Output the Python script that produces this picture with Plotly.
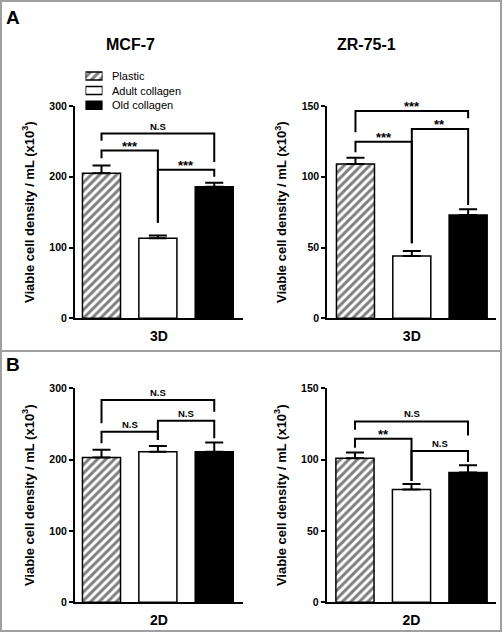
import plotly.graph_objects as go

# ---------------- data ----------------
conditions = ["Plastic", "Adult collagen", "Old collagen"]

mcf7_3d = [205, 113, 186]
mcf7_3d_err = [11, 4, 5.5]
zr_3d = [109, 44, 73]
zr_3d_err = [4.5, 3.5, 4]
mcf7_2d = [203, 211, 211]
mcf7_2d_err = [11, 8, 13]
zr_2d = [101, 79, 91]
zr_2d_err = [4, 4, 5]

# brackets: (left bar, right bar, bracket height, left leg end, right leg end, label)
br_mcf7_3d = [(0, 2, 261, 251, 221, "N.S"), (0, 1, 237, 226, 135, "***"), (1, 2, 210, 135, 200, "***")]
br_zr_3d = [(0, 2, 146.5, 131.4, 141.3, "***"), (1, 2, 133.8, 53, 80, "**"), (0, 1, 124.8, 117.3, 53, "***")]
br_mcf7_2d = [(0, 2, 283.6, 251, 267, "N.S"), (0, 1, 239, 223, 227.5, "N.S"), (1, 2, 254.6, 227.5, 230, "N.S")]
br_zr_2d = [(0, 2, 126.8, 121, 117, "N.S"), (0, 1, 114.7, 108.4, 85, "**"), (1, 2, 106, 85, 98.3, "N.S")]

y_ticks_mcf7 = [0, 100, 200, 300]
y_ticks_zr = [0, 50, 100, 150]
cell_lines = ["MCF-7", "ZR-75-1"]
cultures = ["3D", "2D"]
y_title = "Viable cell density / mL (x10<sup>3</sup>)"

# ---------------- layout helpers ----------------
W, H = 504, 633
FONT = "Liberation Sans, Arial, sans-serif"

def px(x):
    return x / W

def py(y):
    return 1 - y / H

fig = go.Figure()

panels = [
    dict(n="", vals=mcf7_3d, errs=mcf7_3d_err, br=br_mcf7_3d, ticks=y_ticks_mcf7, xd=(75, 243), yd=(318.3, 106), xr=[-0.47, 2.51]),
    dict(n="2", vals=zr_3d, errs=zr_3d_err, br=br_zr_3d, ticks=y_ticks_zr, xd=(327.3, 496.3), yd=(318.3, 106), xr=[-0.5, 2.5]),
    dict(n="3", vals=mcf7_2d, errs=mcf7_2d_err, br=br_mcf7_2d, ticks=y_ticks_mcf7, xd=(75, 243), yd=(602.3, 388.3), xr=[-0.47, 2.51]),
    dict(n="4", vals=zr_2d, errs=zr_2d_err, br=br_zr_2d, ticks=y_ticks_zr, xd=(326.7, 496.3), yd=(602.3, 388.3), xr=[-0.5, 2.5]),
]

HATCH = dict(shape="/", fgcolor="black", bgcolor="white", size=6, solidity=0.5)
styles = [
    dict(color="white", pattern=HATCH),
    dict(color="white", pattern=dict(shape="")),
    dict(color="black", pattern=dict(shape="")),
]

annotations = []
for pi, p in enumerate(panels):
    xa = "x" + p["n"]
    ya = "y" + p["n"]
    for k, cond in enumerate(conditions):
        fig.add_trace(go.Bar(
            x=[k], y=[p["vals"][k]], width=0.675,
            name=cond, showlegend=False,
            marker=dict(color=styles[k]["color"], pattern=styles[k]["pattern"],
                        line=dict(color="black", width=1.5)),
            error_y=dict(type="data", symmetric=False, array=[p["errs"][k]], arrayminus=[0],
                         color="black", thickness=2, width=9),
            xaxis=xa, yaxis=ya, hoverinfo="skip",
        ))
    for (a, b, yh, yl, yr, lab) in p["br"]:
        fig.add_trace(go.Scatter(
            x=[a, a, b, b], y=[yl, yh, yh, yr], mode="lines",
            line=dict(color="black", width=2), cliponaxis=False,
            showlegend=False, hoverinfo="skip", xaxis=xa, yaxis=ya,
        ))
        is_star = lab.startswith("*")
        annotations.append(dict(
            x=(a + b) / 2, y=yh, xref=xa, yref=ya, text="<b>" + lab + "</b>",
            showarrow=False, xanchor="center", yanchor="bottom", yshift=(-5 if is_star else 0),
            font=dict(family=FONT, size=(13 if is_star else 9.5), color="black"),
        ))
    axis_x = dict(domain=[px(p["xd"][0]), px(p["xd"][1])], range=p["xr"], anchor=ya,
                  showline=True, linewidth=2, linecolor="black", showticklabels=False,
                  ticks="", showgrid=False, zeroline=False, fixedrange=True, automargin=False,
                  title=dict(text="<b>" + cultures[pi // 2] + "</b>", standoff=12,
                             font=dict(family=FONT, size=14, color="black")))
    axis_y = dict(domain=[py(p["yd"][0]), py(p["yd"][1])], range=[0, p["ticks"][-1]], anchor=xa,
                  showline=True, linewidth=2, linecolor="black", ticks="outside",
                  ticklen=4, tickwidth=2, tickcolor="black", tickvals=p["ticks"],
                  tickfont=dict(family=FONT, size=10.5, color="black", weight="bold"),
                  showgrid=False, zeroline=False, fixedrange=True, automargin=False,
                  title=dict(text="<b>" + y_title + "</b>", standoff=12,
                             font=dict(family=FONT, size=13, color="black")))
    fig.update_layout(**{"xaxis" + p["n"]: axis_x, "yaxis" + p["n"]: axis_y})

# ---------------- legend (compact key drawn as a tiny bar subplot) ----------------
for k, cond in enumerate(conditions):
    fig.add_trace(go.Bar(
        x=[1], y=[k], orientation="h", width=0.55, showlegend=False, hoverinfo="skip",
        marker=dict(color=styles[k]["color"], pattern=styles[k]["pattern"],
                    line=dict(color="black", width=1.5)),
        xaxis="x5", yaxis="y5",
    ))
LEG_ROW = 14.6
LEG_TOP = 76 - LEG_ROW / 2
fig.update_layout(
    xaxis5=dict(domain=[px(85.5), px(102.5)], range=[0, 1], visible=False, fixedrange=True, anchor="y5"),
    yaxis5=dict(domain=[py(LEG_TOP + 3 * LEG_ROW), py(LEG_TOP)], range=[2.5, -0.5], visible=False,
                fixedrange=True, anchor="x5"),
)
for k, cond in enumerate(conditions):
    annotations.append(dict(x=px(110), y=py(76 + k * LEG_ROW), xref="paper", yref="paper",
                            text=cond, showarrow=False, xanchor="left", yanchor="middle",
                            font=dict(family=FONT, size=11, color="black")))

# cell line titles
annotations.append(dict(x=px(130), y=py(45), xref="paper", yref="paper", text="<b>" + cell_lines[0] + "</b>",
                        showarrow=False, xanchor="center", yanchor="middle",
                        font=dict(family=FONT, size=16, color="black")))
annotations.append(dict(x=px(366.7), y=py(45), xref="paper", yref="paper", text="<b>" + cell_lines[1] + "</b>",
                        showarrow=False, xanchor="center", yanchor="middle",
                        font=dict(family=FONT, size=16, color="black")))
# panel letters
annotations.append(dict(x=px(4), y=py(17), xref="paper", yref="paper", text="<b>A</b>", xanchor="left",
                        yanchor="middle", showarrow=False, font=dict(family=FONT, size=19, color="black")))
annotations.append(dict(x=px(4), y=py(364), xref="paper", yref="paper", text="<b>B</b>", xanchor="left",
                        yanchor="middle", showarrow=False, font=dict(family=FONT, size=19, color="black")))

shapes = [
    dict(type="rect", xref="paper", yref="paper", x0=px(1), x1=px(501), y0=py(631), y1=py(1),
         line=dict(color="#a0a0a0", width=2)),
    dict(type="line", xref="paper", yref="paper", x0=px(1), x1=px(501), y0=py(351), y1=py(351),
         line=dict(color="#a0a0a0", width=2)),
]

fig.update_layout(
    width=W, height=H, autosize=False,
    margin=dict(l=0, r=0, t=0, b=0),
    paper_bgcolor="white", plot_bgcolor="white",
    barmode="overlay", showlegend=False,
    annotations=annotations, shapes=shapes,
    font=dict(family=FONT),
)

fig.write_html("out.html", config={"displayModeBar": False},
               post_script="document.body.style.margin='0';")
